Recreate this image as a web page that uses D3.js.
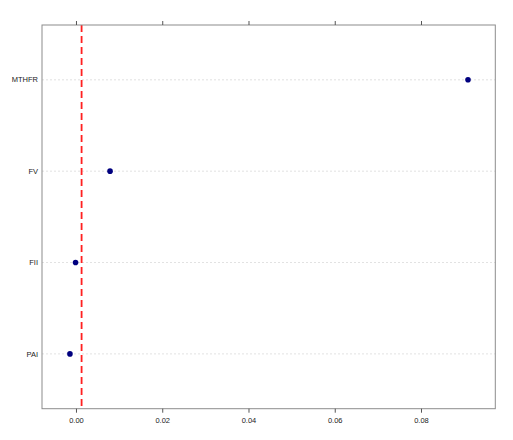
<!DOCTYPE html>
<html><head><meta charset="utf-8">
<script src="https://cdn.jsdelivr.net/npm/d3@7"></script>
<style>body{margin:0;background:#fff}svg{display:block}</style>
</head><body>
<svg id="c" width="513" height="440"></svg>
<script>
const categories = ["PAI","FII","FV","MTHFR"];
const values = [-0.0014, -0.0001, 0.0079, 0.0909];
const refLine = 0.0013;
const xTicks = [0, 0.02, 0.04, 0.06, 0.08];

const svg = d3.select("#c");
const L = 42, R = 495.3, T = 25, B = 408.7;
const x = d3.scaleLinear().domain([-0.00788, 0.09723]).range([L, R]);
const y = d3.scaleLinear().domain([0.4, 4.6]).range([B, T]);
const font = "Liberation Sans, Arial, Helvetica, sans-serif";

// grid lines
svg.selectAll("line.grid").data(categories).enter().append("line")
  .attr("x1", L).attr("x2", R)
  .attr("y1", (d,i)=>y(i+1)).attr("y2", (d,i)=>y(i+1))
  .attr("stroke", "#d9d9d9").attr("stroke-width", 0.8).attr("stroke-dasharray", "2,2");

// reference line
svg.append("line").attr("x1", x(refLine)).attr("x2", x(refLine))
  .attr("y1", T).attr("y2", B)
  .attr("stroke", "#ff2020").attr("stroke-width", 1.8).attr("stroke-dasharray", "7,4");

// points
svg.selectAll("circle").data(values).enter().append("circle")
  .attr("cx", d=>x(d)).attr("cy", (d,i)=>y(i+1)).attr("r", 2.8)
  .attr("fill", "#00007f");

// panel border
svg.append("rect").attr("x", L).attr("y", T).attr("width", R-L).attr("height", B-T)
  .attr("fill", "none").attr("stroke", "#8c8c8c").attr("stroke-width", 1);

// bottom axis
const bottomAxis = svg.append("g").attr("transform", `translate(0,${B})`)
  .call(d3.axisBottom(x).tickValues(xTicks).tickFormat(d3.format(".2f")).tickSize(4).tickPadding(5));
bottomAxis.select(".domain").remove();
bottomAxis.selectAll("line").attr("stroke", "#555");
bottomAxis.selectAll("text").attr("font-family", font).attr("font-size", 7.5).attr("fill", "#222");

// top axis (ticks only)
const topAxis = svg.append("g").attr("transform", `translate(0,${T})`)
  .call(d3.axisTop(x).tickValues(xTicks).tickFormat("").tickSize(4));
topAxis.select(".domain").remove();
topAxis.selectAll("line").attr("stroke", "#555");

// y labels
svg.selectAll("text.ylab").data(categories).enter().append("text")
  .attr("class","ylab")
  .attr("x", 38).attr("y", (d,i)=>y(i+1)).attr("dy", "0.35em")
  .attr("text-anchor", "end").attr("font-family", font).attr("font-size", 7.5).attr("fill", "#222")
  .text(d=>d);
</script>
</body></html>
